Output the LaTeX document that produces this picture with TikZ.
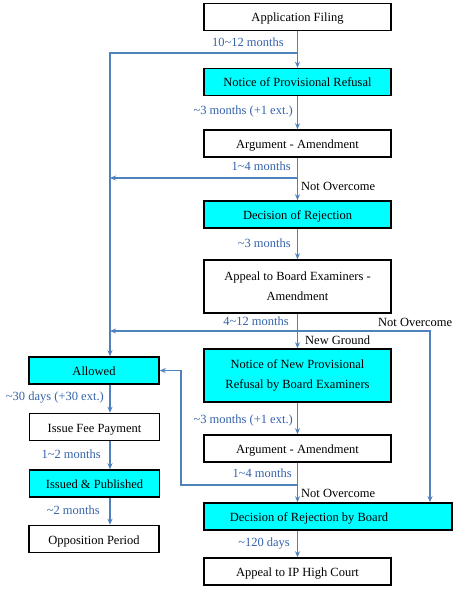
\documentclass[tikz,border=0pt]{standalone}
\usepackage{fontspec}
\setmainfont{Liberation Serif}
\usetikzlibrary{arrows.meta,positioning}
\definecolor{flowblue}{RGB}{79,129,189}
\definecolor{lapseblue}{RGB}{52,98,170}
\definecolor{officecyan}{RGB}{0,255,255}

\begin{document}
\begin{tikzpicture}[x=1pt,y=-1pt,>={Stealth[length=6pt,width=5pt]},line join=miter,
  font=\fontsize{12.5}{20}\selectfont,
  stage/.style={draw=black,line width=1.6pt,minimum height=27pt,inner sep=2pt,align=center,
    text height=11pt,text depth=1pt},
  office/.style={stage,fill=officecyan},
  twoline/.style={minimum height=53pt,text height={},text depth={}},
  flow/.style={->,draw=flowblue,line width=1.3pt},
  lapse/.style={text=lapseblue,inner sep=1pt,text height=8.5pt,text depth=2.5pt},
  verdict/.style={text=black,inner sep=1pt,text height=8.5pt,text depth=2.5pt}]
 \useasboundingbox (0,0) rectangle (475,604);
 % main column
 \node[stage,minimum width=187pt] (filing) at (297.5,17) {Application Filing};
 \node[office,minimum width=187pt] (refusal) at (297.5,82) {Notice of Provisional Refusal};
 \node[stage,minimum width=187pt] (argue) at (297.5,143.5) {Argument - Amendment};
 \node[office,minimum width=187pt] (reject) at (297.5,214.5) {Decision of Rejection};
 \node[stage,twoline,minimum width=187pt] (appeal) at (297.5,286.5)
  {Appeal to Board Examiners -\\Amendment};
 \node[office,twoline,minimum width=187pt] (newref) at (297.5,375.5)
  {Notice of New Provisional\\Refusal by Board Examiners};
 \node[stage,minimum width=187pt] (argueb) at (297.5,448.5) {Argument - Amendment};
 \node[office,minimum width=248pt] (rejectb) at (328,516.5)
  {Decision of Rejection by Board\hspace*{38pt}};
 \node[stage,minimum width=187pt] (court) at (297.5,571.5) {Appeal to IP High Court};
 % left column
 \node[office,minimum width=130pt] (allowed) at (94,370.5) {Allowed};
 \node[stage,minimum width=130pt] (fee) at (94.5,427) {Issue Fee Payment};
 \node[office,minimum width=130pt] (issued) at (94.5,483.5) {Issued \& Published};
 \node[stage,minimum width=130pt] (oppo) at (94,539) {Opposition Period};

 % rails
 \coordinate (split1) at (297.5,53);
 \coordinate (split2) at (297.5,178);
 \coordinate (split3) at (297.5,331);
 \coordinate (split4) at (297.5,485);
 \coordinate (leftrail) at (110,53);
 \coordinate (rightrail) at (430,331);
 \coordinate (backrail) at (181,485);

 \draw[flow] (filing) -- (refusal);
 \draw[flow] (refusal) -- (argue);
 \draw[flow] (argue) -- (reject);
 \draw[flow] (reject) -- (appeal);
 \draw[flow] (appeal) -- (newref);
 \draw[flow] (newref) -- (argueb);
 \draw[flow] (argueb.south) -- (argueb.south |- rejectb.north);
 \draw[flow] (court.north |- rejectb.south) -- (court.north);

 \draw[flow] (split1) -- (leftrail) -- (leftrail |- allowed.north);
 \draw[flow] (split2) -- (leftrail |- split2);
 \draw[flow] (split3) -- (leftrail |- split3);
 \draw[flow] (split3) -- (rightrail) -- (rightrail |- rejectb.north);
 \draw[flow] (split4) -- (backrail) -- (backrail |- allowed.east) -- (allowed.east);

 \draw[flow] (leftrail |- allowed.south) -- (leftrail |- fee.north);
 \draw[flow] (leftrail |- fee.south) -- (leftrail |- issued.north);
 \draw[flow] (leftrail |- issued.south) -- (leftrail |- oppo.north);

 % time labels
 \node[lapse,anchor=east] (lapse1) at (285,44) {10\textasciitilde12 months};
 \node[lapse,anchor=east] (lapse2) at (294,112) {\textasciitilde3 months (+1 ext.)};
 \node[lapse,anchor=east] (lapse3) at (292,168) {1\textasciitilde4 months};
 \node[lapse,anchor=east] (lapse4) at (292,244) {\textasciitilde3 months};
 \node[lapse,anchor=east] (lapse5) at (290,322) {4\textasciitilde12 months};
 \node[lapse,anchor=east] (lapse6) at (294,420) {\textasciitilde3 months (+1 ext.)};
 \node[lapse,anchor=east] (lapse7) at (293,474) {1\textasciitilde4 months};
 \node[lapse,anchor=east] (lapse8) at (291,543) {\textasciitilde120 days};
 \node[lapse,anchor=east] (lapse9) at (105,397) {\textasciitilde30 days (+30 ext.)};
 \node[lapse,anchor=east] (lapse10) at (102,455) {1\textasciitilde2 months};
 \node[lapse,anchor=east] (lapse11) at (101,511) {\textasciitilde2 months};
 % outcome labels
 \node[verdict,anchor=west] (verdict1) at (300,187) {Not Overcome};
 \node[verdict,anchor=west] (verdict2) at (304,341) {New Ground};
 \node[verdict,anchor=west] (verdict3) at (377,323) {Not Overcome};
 \node[verdict,anchor=west] (verdict4) at (300,494) {Not Overcome};
\end{tikzpicture}
\end{document}
